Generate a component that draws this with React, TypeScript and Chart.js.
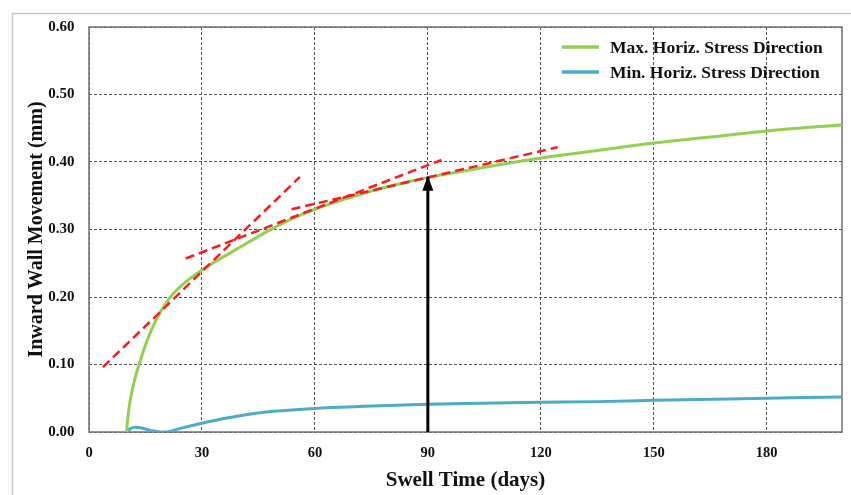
import React, { useEffect, useRef } from "react";
import { Chart, registerables } from "chart.js";

Chart.register(...registerables);

// ---- data ----
const maxDirDays = [10, 10.3, 10.8, 11.4, 12.1, 13.3, 15.2, 17.9, 21.2, 25, 30, 37.4, 42, 48, 54, 60, 68, 77, 90, 101, 110, 120, 135, 150, 165, 180, 200];
const maxDirValues = [0, 0.02, 0.042, 0.06, 0.077, 0.1, 0.132, 0.167, 0.197, 0.219, 0.24, 0.265, 0.28, 0.299, 0.316, 0.33, 0.345, 0.36, 0.377, 0.388, 0.397, 0.406, 0.417, 0.428, 0.437, 0.446, 0.455];

const minDirDays = [10, 11, 12.3, 14.3, 16.5, 18.8, 21, 24, 30, 37, 46, 60, 73, 90, 104, 120, 135, 150, 180, 200];
const minDirValues = [0, 0.005, 0.007, 0.0055, 0.002, 0, 0.0005, 0.005, 0.013, 0.021, 0.029, 0.035, 0.038, 0.041, 0.0425, 0.044, 0.045, 0.047, 0.05, 0.052];

const tangentADays = [3.7, 56];
const tangentAValues = [0.096, 0.378];
const tangentBDays = [25.7, 93.6];
const tangentBValues = [0.257, 0.403];
const tangentCDays = [53.8, 124.5];
const tangentCValues = [0.33, 0.422];

const arrowDays = [90, 90];
const arrowValues = [0, 0.378];

const xTickValues = [0, 30, 60, 90, 120, 150, 180];
const yTickValues = [0, 0.1, 0.2, 0.3, 0.4, 0.5, 0.6];

const seriesLabels = ["Max. Horiz. Stress Direction", "Min. Horiz. Stress Direction"];
const seriesColors = ["#92d050", "#4bacc6"];

const FONT = "'Liberation Serif', 'Times New Roman', serif";

const pts = (xs: number[], ys: number[]) => xs.map((x, i) => ({ x, y: ys[i] }));

export default function App() {
  const ref = useRef<HTMLCanvasElement | null>(null);

  useEffect(() => {
    if (!ref.current) return;

    const decor = {
      id: "decor",
      beforeDraw(chart: any) {
        const ctx = chart.ctx;
        ctx.save();
        ctx.strokeStyle = "#c8c8c8";
        ctx.lineWidth = 1.5;
        ctx.beginPath();
        ctx.moveTo(12.5, 495);
        ctx.lineTo(12.5, 13.5);
        ctx.lineTo(851, 13.5);
        ctx.stroke();
        ctx.restore();
      },
      beforeDatasetsDraw(chart: any) {
        const { ctx, chartArea: a } = chart;
        ctx.save();
        ctx.strokeStyle = "#707070";
        ctx.lineWidth = 1.5;
        ctx.strokeRect(a.left, a.top, a.right - a.left, a.bottom - a.top);
        ctx.restore();
      },
      afterDatasetsDraw(chart: any) {
        const ctx = chart.ctx;
        const meta = chart.getDatasetMeta(5);
        const tip = meta.data[1];
        if (tip) {
          ctx.save();
          ctx.fillStyle = "#000";
          ctx.beginPath();
          ctx.moveTo(tip.x, tip.y - 1);
          ctx.lineTo(tip.x - 5.5, tip.y + 14);
          ctx.lineTo(tip.x + 5.5, tip.y + 14);
          ctx.closePath();
          ctx.fill();
          ctx.restore();
        }
      },
      afterDraw(chart: any) {
        const ctx = chart.ctx;
        ctx.save();
        const rows = [47, 72];
        seriesLabels.forEach((label, i) => {
          const y = rows[i];
          ctx.strokeStyle = seriesColors[i];
          ctx.lineWidth = 3.5;
          ctx.beginPath();
          ctx.moveTo(562, y);
          ctx.lineTo(599, y);
          ctx.stroke();
          ctx.fillStyle = "#111";
          ctx.font = `bold 17.5px ${FONT}`;
          ctx.textBaseline = "middle";
          ctx.textAlign = "left";
          ctx.fillText(label, 610, y + 1);
        });
        ctx.restore();
      },
    };

    const redDash = {
      borderColor: "#ff1a1a",
      borderWidth: 2.5,
      borderDash: [9, 5],
      pointRadius: 0,
      fill: false,
    };

    const chart = new Chart(ref.current, {
      type: "line",
      data: {
        datasets: [
          {
            label: seriesLabels[0],
            data: pts(maxDirDays, maxDirValues),
            borderColor: seriesColors[0],
            borderWidth: 3,
            pointRadius: 0,
            cubicInterpolationMode: "monotone",
            order: 5,
          },
          {
            label: seriesLabels[1],
            data: pts(minDirDays, minDirValues),
            borderColor: seriesColors[1],
            borderWidth: 3,
            pointRadius: 0,
            cubicInterpolationMode: "monotone",
            order: 6,
          },
          { label: "tA", data: pts(tangentADays, tangentAValues), ...redDash, order: 2 },
          { label: "tB", data: pts(tangentBDays, tangentBValues), ...redDash, order: 2 },
          { label: "tC", data: pts(tangentCDays, tangentCValues), ...redDash, order: 2 },
          {
            label: "arrow",
            data: pts(arrowDays, arrowValues),
            borderColor: "#000",
            borderWidth: 3,
            pointRadius: 0,
            order: 1,
          },
        ] as any,
      },
      options: {
        responsive: false,
        maintainAspectRatio: false,
        animation: false,
        devicePixelRatio: 1,
        layout: { padding: { left: 0, right: 9, top: 27, bottom: 0 } },
        plugins: {
          legend: { display: false },
          tooltip: { enabled: false },
        },
        scales: {
          x: {
            type: "linear",
            min: 0,
            max: 200,
            afterBuildTicks: (s: any) => {
              s.ticks = xTickValues.map((v) => ({ value: v }));
            },
            afterFit: (s: any) => {
              s.height = 63;
            },
            ticks: {
              padding: 13,
              color: "#111",
              font: { family: FONT, size: 14.5, weight: "bold" },
              callback: (v: any) => String(v),
            },
            grid: { color: "#555", lineWidth: 1, drawTicks: false },
            border: { display: false, dash: [3, 2] },
            title: {
              display: true,
              text: "Swell Time (days)",
              color: "#111",
              font: { family: FONT, size: 21, weight: "bold" },
              padding: { top: 0, bottom: 2 },
            },
          },
          y: {
            type: "linear",
            min: 0,
            max: 0.6,
            afterBuildTicks: (s: any) => {
              s.ticks = yTickValues.map((v) => ({ value: v }));
            },
            afterFit: (s: any) => {
              s.width = 89;
            },
            ticks: {
              padding: 14.5,
              color: "#111",
              font: { family: FONT, size: 15, weight: "bold" },
              callback: (v: any) => Number(v).toFixed(2),
            },
            grid: { color: "#555", lineWidth: 1, drawTicks: false },
            border: { display: false, dash: [3, 2] },
            title: {
              display: true,
              text: "Inward Wall Movement (mm)",
              color: "#111",
              font: { family: FONT, size: 20, weight: "bold" },
              padding: { top: 25, bottom: 0 },
            },
          },
        },
      } as any,
      plugins: [decor],
    });

    return () => chart.destroy();
  }, []);

  return (
    <div style={{ position: "absolute", left: 0, top: 0, width: 851, height: 495, background: "#fff" }}>
      <canvas ref={ref} width={851} height={495} style={{ display: "block" }} />
    </div>
  );
}
